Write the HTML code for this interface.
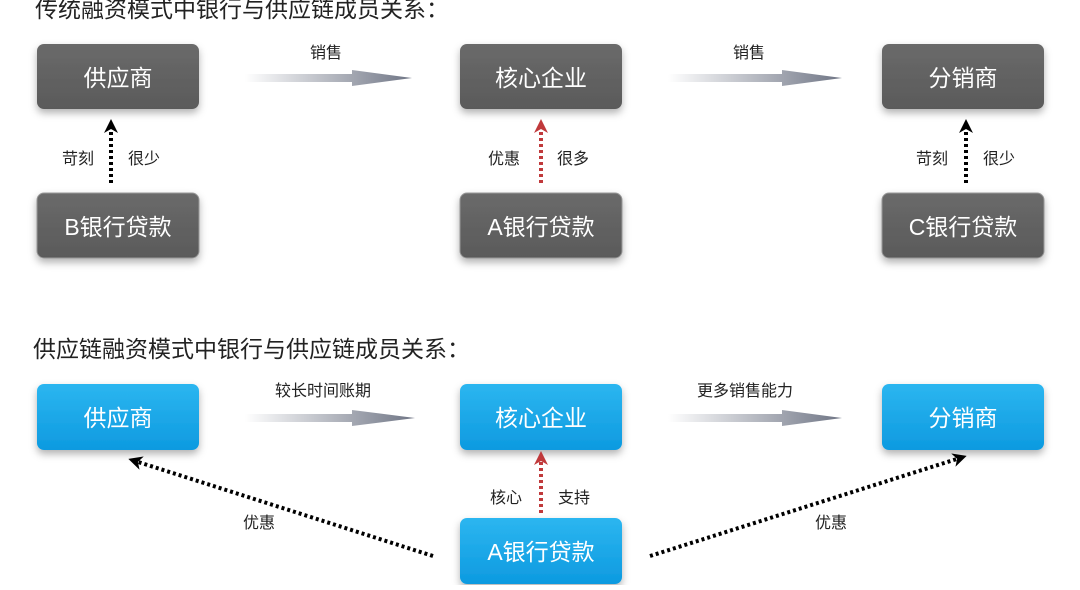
<!DOCTYPE html>
<html><head><meta charset="utf-8"><style>
body{margin:0;background:#fff;width:1080px;height:585px;overflow:hidden;font-family:"Liberation Sans","Noto Sans CJK SC",sans-serif}
</style></head><body>
<svg width="1080" height="585" xmlns="http://www.w3.org/2000/svg" style="font-family:'Liberation Sans','Noto Sans CJK SC',sans-serif">
<defs>
<linearGradient id="ag" x1="0" x2="1"><stop offset="0" stop-color="#fff"/><stop offset="1" stop-color="#6f7585"/></linearGradient>
<linearGradient id="gb" x1="0" y1="0" x2="0" y2="1"><stop offset="0" stop-color="#6a6a6a"/><stop offset="1" stop-color="#5a5a5a"/></linearGradient>
<linearGradient id="bb" x1="0" y1="0" x2="0" y2="1"><stop offset="0" stop-color="#2cb6f0"/><stop offset="1" stop-color="#0d9ae0"/></linearGradient>
<filter id="sh" x="-20%" y="-20%" width="140%" height="150%"><feDropShadow dx="0" dy="4" stdDeviation="4" flood-color="#000" flood-opacity="0.3"/></filter>
<marker id="mk" markerWidth="14" markerHeight="14" refX="7" refY="7" orient="auto" markerUnits="userSpaceOnUse"><path d="M0,0 L14,7 L0,14 L4,7z" fill="#000"/></marker>
<marker id="mr" markerWidth="14" markerHeight="14" refX="7" refY="7" orient="auto" markerUnits="userSpaceOnUse"><path d="M0,0 L14,7 L0,14 L4,7z" fill="#c0393b"/></marker>
</defs>
<text x="35" y="17" font-size="23" fill="#222">传统融资模式中银行与供应链成员关系：</text>
<text x="33" y="357" font-size="23" fill="#222">供应链融资模式中银行与供应链成员关系：</text>
<g filter="url(#sh)">
<rect x="37" y="44" width="162" height="65" rx="7" fill="url(#gb)"/>
<rect x="460" y="44" width="162" height="65" rx="7" fill="url(#gb)"/>
<rect x="882" y="44" width="162" height="65" rx="7" fill="url(#gb)"/>
<rect x="37" y="193" width="162" height="65" rx="7" fill="url(#gb)" stroke="#999" stroke-width="1"/>
<rect x="460" y="193" width="162" height="65" rx="7" fill="url(#gb)" stroke="#999" stroke-width="1"/>
<rect x="882" y="193" width="162" height="65" rx="7" fill="url(#gb)" stroke="#999" stroke-width="1"/>
<rect x="37" y="384" width="162" height="66" rx="7" fill="url(#bb)"/>
<rect x="460" y="384" width="162" height="66" rx="7" fill="url(#bb)"/>
<rect x="882" y="384" width="162" height="66" rx="7" fill="url(#bb)"/>
<rect x="460" y="518" width="162" height="66" rx="7" fill="url(#bb)"/>
</g>
<g font-size="23" fill="#fff" text-anchor="middle">
<text x="118" y="86">供应商</text><text x="541" y="86">核心企业</text><text x="963" y="86">分销商</text>
<text x="118" y="235">B银行贷款</text><text x="541" y="235">A银行贷款</text><text x="963" y="235">C银行贷款</text>
<text x="118" y="426">供应商</text><text x="541" y="426">核心企业</text><text x="963" y="426">分销商</text>
<text x="541" y="560">A银行贷款</text>
</g>
<g fill="url(#ag)">
<path d="M245,74 L352,74 L352,70 L412,78 L352,86 L352,82 L245,82z"/>
<path d="M668,74 L782,74 L782,70 L842,78 L782,86 L782,82 L668,82z"/>
<path d="M245,414 L352,414 L352,410 L415,418 L352,426 L352,422 L245,422z"/>
<path d="M668,414 L782,414 L782,410 L842,418 L782,426 L782,422 L668,422z"/>
</g>
<g font-size="16" fill="#222">
<text x="310" y="58">销售</text><text x="733" y="58">销售</text>
<text x="62" y="164">苛刻</text><text x="128" y="164">很少</text>
<text x="488" y="164">优惠</text><text x="557" y="164">很多</text>
<text x="916" y="164">苛刻</text><text x="983" y="164">很少</text>
<text x="275" y="396">较长时间账期</text><text x="697" y="396">更多销售能力</text>
<text x="490" y="503">核心</text><text x="558" y="503">支持</text>
<text x="243" y="528">优惠</text><text x="815" y="528">优惠</text>
</g>
<g stroke-width="4" stroke-dasharray="3,3" fill="none">
<line x1="111" y1="183" x2="111" y2="126" stroke="#000" marker-end="url(#mk)"/>
<line x1="966" y1="183" x2="966" y2="126" stroke="#000" marker-end="url(#mk)"/>
<line x1="541" y1="183" x2="541" y2="126" stroke="#c0393b" marker-end="url(#mr)"/>
<line x1="541" y1="513" x2="541" y2="458" stroke="#c0393b" marker-end="url(#mr)"/>
<line x1="433" y1="556" x2="135" y2="461" stroke="#000" marker-end="url(#mk)"/>
<line x1="650" y1="556" x2="960" y2="458" stroke="#000" marker-end="url(#mk)"/>
</g>
</svg>
</body></html>
